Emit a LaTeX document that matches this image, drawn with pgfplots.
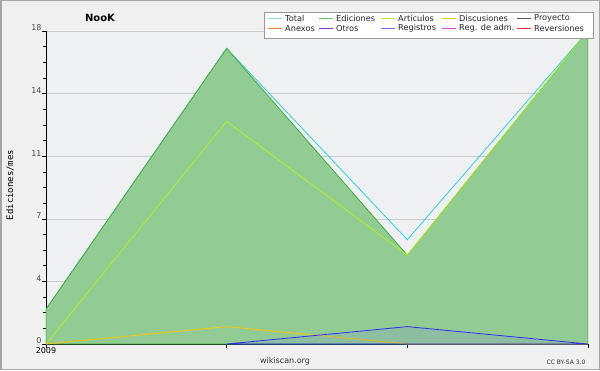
\documentclass[border=0pt]{standalone}
\usepackage{pgfplots}
\pgfplotsset{compat=1.18}
\usepackage{fontspec}
\setmainfont{DejaVu Sans}
\newfontfamily\monof{DejaVu Sans Mono}
\definecolor{bgout}{HTML}{F0F0F0}
\definecolor{bgin}{HTML}{EFF0F2}
\definecolor{cTotal}{HTML}{7FE0E0}
\definecolor{cTotalL}{HTML}{30D0D8}
\definecolor{cEd}{HTML}{44AA44}
\definecolor{cEdL}{HTML}{66CC66}
\definecolor{cEdF}{HTML}{93CB95}
\definecolor{cArt}{HTML}{B0F020}
\definecolor{cDis}{HTML}{F8C800}
\definecolor{cPro}{HTML}{555555}
\definecolor{cAne}{HTML}{FF8030}
\definecolor{cOtr}{HTML}{9030E0}
\definecolor{cReg}{HTML}{7070FF}
\definecolor{cRegL}{HTML}{3030F0}
\definecolor{cAdm}{HTML}{E040E0}
\definecolor{cRev}{HTML}{F03030}
\newcommand\legitem[4]{%
  \draw[draw=#3, line width=1pt] (#1,#2) -- (#1+14,#2);
  \node[anchor=west, inner sep=0pt, font=\fontsize{8.2}{10}\selectfont, text=black!85] at (#1+17,#2+0.5) {#4};
}
\begin{document}
\begin{tikzpicture}[x=1pt,y=1pt]
\fill[bgout] (0,0) rectangle (600,370);
\draw[black!35,line width=1.5pt] (0.75,0.75) rectangle (599.25,369.25);
\node[font=\fontsize{10}{12}\selectfont\bfseries] at (100,352) {NooK};
\node[font=\fontsize{8}{10}\selectfont,text=black!80] at (285,9) {wikiscan.org};
\node[font=\fontsize{6}{7}\selectfont,text=black!80] at (566,8) {CC BY-SA 3.0};
\node[rotate=90, font=\fontsize{9}{10}\selectfont\monof] at (10,185) {Ediciones/mes};
\begin{axis}[
  at={(46pt,26pt)}, anchor=origin,
  scale only axis, width=542pt, height=313pt,
  xmin=0, xmax=3, ymin=0, ymax=18,
  axis background/.style={fill=bgin},
  axis x line*=bottom, axis y line*=left,
  axis line style={black, line width=0.8pt, -},
  xtick={0,1,2,3}, xticklabels={2009,,,},
  x tick label style={font=\fontsize{8}{9}\selectfont, yshift=4pt},
  ytick={0,3.6,7.2,10.8,14.4,18},
  yticklabels={0,4,7,11,14,18},
  y tick label style={font=\fontsize{8}{9}\selectfont, yshift=3pt, xshift=3pt, text=black!70},
  minor y tick num=3,
  tick align=outside,
  major tick length=4pt, minor tick length=3pt,
  tick style={black, line width=0.6pt},
  ymajorgrids, major grid style={black!20, line width=0.6pt},
  clip=true,
]
\addplot[cTotalL, line width=0.8pt] coordinates {(0,2) (1,17) (2,6) (3,18)};
\addplot[draw=cEd, fill=cEdF, line width=0.8pt] coordinates {(0,2) (1,17) (2,5.1) (3,18)} \closedcycle;
\addplot[cArt, line width=0.8pt] coordinates {(0,0) (1,12.8) (2,5.1) (3,18)};
\addplot[cDis, line width=0.8pt] coordinates {(0,0) (1,1) (2,0) (3,0)};
\addplot[draw=cRegL, fill=blue!60, fill opacity=0.12, line width=0.8pt] coordinates {(1,0) (2,1) (3,0)} \closedcycle;
\end{axis}
% legend
\draw[black!40, fill=white, line width=0.8pt] (264,332) rectangle (593,358);
\legitem{268}{351}{cTotal}{Total}
\legitem{319}{351}{cEdL}{Ediciones}
\legitem{381}{351}{cArt}{Artículos}
\legitem{442}{351}{cDis}{Discusiones}
\legitem{517}{351}{cPro}{Proyecto}
\legitem{268}{341}{cAne}{Anexos}
\legitem{319}{341}{cOtr}{Otros}
\legitem{381}{341}{cReg}{Registros}
\legitem{442}{341}{cAdm}{Reg. de adm.}
\legitem{517}{341}{cRev}{Reversiones}
\end{tikzpicture}
\end{document}
